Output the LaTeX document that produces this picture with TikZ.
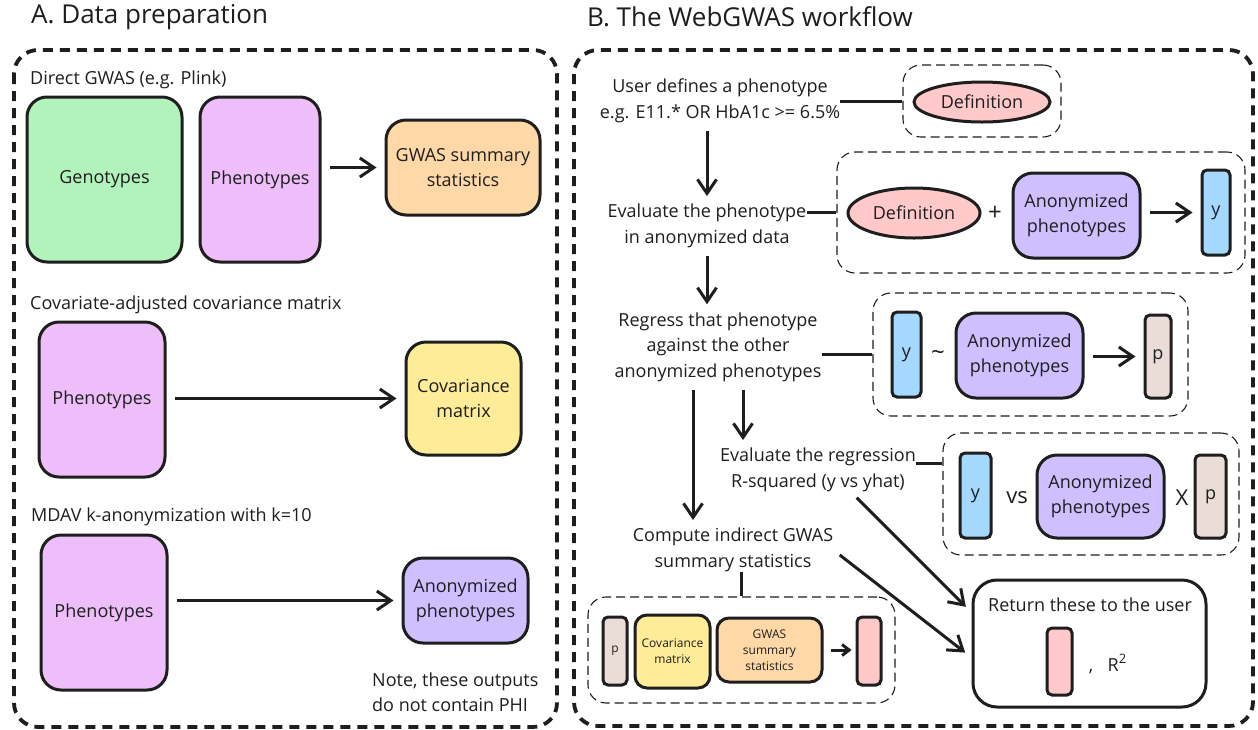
\documentclass[tikz,border=0pt]{standalone}
\usepackage{fontspec}
\setmainfont{Open Sans}
\usetikzlibrary{arrows.meta,shapes.geometric}

\definecolor{ink}{HTML}{1E1E1E}
\definecolor{genogreen}{HTML}{B2F2BB}
\definecolor{phenopink}{HTML}{EEBEFA}
\definecolor{gwasorange}{HTML}{FFD8A8}
\definecolor{covyellow}{HTML}{FFEC99}
\definecolor{anonviolet}{HTML}{D0BFFF}
\definecolor{defred}{HTML}{FFC9C9}
\definecolor{yblue}{HTML}{A5D8FF}
\definecolor{pbeige}{HTML}{EADDD7}

\begin{document}
\begin{tikzpicture}[x=1pt, y=-1pt, >={Straight Barb[length=14pt,width=19pt]},
    txt/.style={font=\fontsize{18}{25.5}\selectfont, text=ink, align=center, inner sep=0pt},
    box/.style={txt, draw=ink, line width=3pt, rounded corners=20pt},
    bar/.style={box, rounded corners=5pt},
    oval/.style={txt, ellipse, draw=ink, line width=3pt, fill=defred},
    grp/.style={draw=ink, line width=1.1pt, dash pattern=on 9pt off 5pt, rounded corners=18pt, inner sep=0pt},
    panel/.style={draw=ink, line width=3.8pt, dash pattern=on 10pt off 7pt, rounded corners=24pt},
    link/.style={draw=ink, line width=3pt},
    arr/.style={link, ->, shorten <=8pt, shorten >=8pt},
    small/.style={font=\fontsize{12}{16}\selectfont},
    big/.style={font=\fontsize{22}{26}\selectfont},
    title/.style={txt, anchor=west, font=\fontsize{26}{30}\selectfont}]

    \fill[white] (0,0) rectangle (1258,729);

    % A. Data preparation
    \node[title] (titleA) at (31,17) {A. Data preparation};
    \draw[panel] (14,50) rectangle (557,727);

    \node[txt, anchor=west] (directLbl) at (30,80) {Direct GWAS (e.g. Plink)};
    \node[box, fill=genogreen, minimum width=155pt, minimum height=165pt] (geno) at (104.5,179.5) {Genotypes};
    \node[box, fill=phenopink, minimum width=120pt, minimum height=165pt] (phenoA) at (260,179.5) {Phenotypes};
    \node[box, fill=gwasorange, minimum width=154pt, minimum height=95pt] (gwasA) at (463,167.5) {GWAS summary\\statistics};
    \draw[arr] (phenoA.east |- gwasA.west) -- (gwasA.west);

    \node[txt, anchor=west] (covLbl) at (30,305) {Covariate-adjusted covariance matrix};
    \node[box, fill=phenopink, minimum width=126pt, minimum height=155pt] (phenoB) at (102,399.5) {Phenotypes};
    \node[box, fill=covyellow, minimum width=115pt, minimum height=113pt] (covA) at (463.5,398.5) {Covariance\\matrix};
    \draw[arr] (phenoB.east |- covA.west) -- (covA.west);

    \node[txt, anchor=west] (mdavLbl) at (31,517) {MDAV k-anonymization with k=10};
    \node[box, fill=phenopink, minimum width=126pt, minimum height=155pt] (phenoC) at (104,612.5) {Phenotypes};
    \node[box, fill=anonviolet, minimum width=125pt, minimum height=85pt] (anonA) at (465.5,600.5) {Anonymized\\phenotypes};
    \draw[arr] (phenoC.east |- anonA.west) -- (anonA.west);

    \node[txt, anchor=west, align=left] (note) at (372,692) {Note, these outputs\\do not contain PHI};

    % B. The WebGWAS workflow
    \node[title] (titleB) at (587,17) {B. The WebGWAS workflow};
    \draw[panel] (574,50) rectangle (1253,726);

    \node[txt] (define) at (720,101) {User defines a phenotype\\e.g. E11.* OR HbA1c >= 6.5\%};
    \node[grp, minimum width=158pt, minimum height=72pt] (grpDef) at (982,101) {};
    \node[oval, minimum width=136pt, minimum height=40pt] (def1) at (982,102) {Definition};
    \draw[link] (define.east) -- (grpDef.west);

    \node[txt] (evaluate) at (707,226) {Evaluate the phenotype\\in anonymized data};
    \draw[arr] (define.south -| evaluate.north) -- (evaluate.north);
    \node[grp, minimum width=408pt, minimum height=121pt] (grpEval) at (1041,212.5) {};
    \node[oval, minimum width=132pt, minimum height=50pt] (def2) at (914,213) {Definition};
    \node[txt, font=\fontsize{24}{28}\selectfont] (plus) at (995,213) {+};
    \node[box, fill=anonviolet, minimum width=127pt, minimum height=85pt] (anon2) at (1076.5,215.5) {Anonymized\\phenotypes};
    \node[bar, fill=yblue, minimum width=28pt, minimum height=85pt] (y1) at (1216,212.5) {y};
    \draw[arr] (anon2.east |- y1.west) -- (y1.west);
    \draw[link] (evaluate.east |- grpEval.west) -- (grpEval.west);

    \node[txt] (regress) at (718,347) {Regress that phenotype\\against the other\\anonymized phenotypes};
    \draw[arr] (evaluate.south) -- (evaluate.south |- regress.north);
    \node[grp, minimum width=315pt, minimum height=123pt] (grpReg) at (1030.5,354.5) {};
    \node[bar, fill=yblue, minimum width=29pt, minimum height=85pt] (y2) at (906.5,354.5) {y};
    \node[txt, font=\fontsize{24}{28}\selectfont] (tilde) at (938,355) {\textasciitilde};
    \node[box, fill=anonviolet, minimum width=127pt, minimum height=85pt] (anon3) at (1019.5,355.5) {Anonymized\\phenotypes};
    \node[bar, fill=pbeige, minimum width=26pt, minimum height=83pt] (p1) at (1158,356.5) {p};
    \draw[arr] (anon3.east |- p1.west) -- (p1.west);
    \draw[link] (regress.east |- grpReg.west) -- (grpReg.west);

    \node[txt] (rsq) at (818,470) {Evaluate the regression\\R-squared (y vs yhat)};
    \draw[arr] ([xshift=25pt]regress.south) -- ([xshift=25pt]regress.south |- rsq.north);
    \node[grp, minimum width=296pt, minimum height=122pt] (grpRsq) at (1091,494) {};
    \node[bar, fill=yblue, minimum width=31pt, minimum height=85pt] (y3) at (975.5,495.5) {y};
    \node[txt, big] (vs) at (1017,498) {vs};
    \node[box, fill=anonviolet, minimum width=127pt, minimum height=83pt] (anon4) at (1100.5,496.5) {Anonymized\\phenotypes};
    \node[txt, big] (times) at (1182,498) {X};
    \node[bar, fill=pbeige, minimum width=31pt, minimum height=83pt] (p2) at (1210.5,496.5) {p};
    \draw[link] ([yshift=7pt]rsq.east) -- ([yshift=7pt]rsq.east -| grpRsq.west);

    \node[txt] (compute) at (733,550) {Compute indirect GWAS\\summary statistics};
    \draw[arr] ([xshift=-25pt]regress.south) -- ([xshift=-25pt]regress.south |- compute.north);
    \node[grp, minimum width=307pt, minimum height=106pt] (grpComp) at (741.5,650) {};
    \node[bar, small, fill=pbeige, minimum width=24pt, minimum height=68pt] (p3) at (615,651) {p};
    \node[box, small, fill=covyellow, rounded corners=12pt, minimum width=75pt, minimum height=73pt] (cov5) at (672.5,651.5) {Covariance\\matrix};
    \node[box, small, fill=gwasorange, rounded corners=12pt, minimum width=105pt, minimum height=64pt] (gwas5) at (769.5,650) {GWAS\\summary\\statistics};
    \node[bar, fill=defred, minimum width=24pt, minimum height=68pt] (r1) at (869,651) {};
    \draw[link, -{Straight Barb[length=7pt,width=11pt]}, shorten <=7pt, shorten >=4pt] (gwas5.east) -- (gwas5.east -| r1.west);
    \draw[link] (grpComp.north |- compute.south) -- (grpComp.north);

    \node[box, fill=white, rounded corners=24pt, minimum width=233pt, minimum height=127pt] (ret) at (1089.5,643.5) {};
    \node[txt] (retLbl) at (1090,605) {Return these to the user};
    \node[bar, fill=defred, minimum width=25pt, minimum height=67pt] (r2) at (1059.5,661.5) {};
    \node[txt] (comma) at (1091,672) {,};
    \node[txt] (rsquared) at (1117,663) {R\raisebox{8pt}{\fontsize{13}{13}\selectfont 2}};

    \draw[arr] ([xshift=33pt]rsq.south) -- ([yshift=31pt]ret.west);
    \draw[arr] (compute.east) -- ([yshift=-14pt]ret.west);
\end{tikzpicture}
\end{document}
